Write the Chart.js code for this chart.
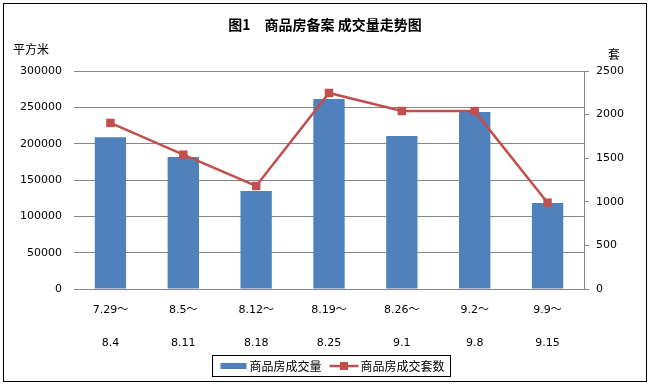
<!DOCTYPE html>
<html>
<head>
<meta charset="utf-8">
<script src="https://cdn.jsdelivr.net/npm/chart.js@4"></script>
<style>
    body { margin: 0; background: #fff; }
    #wrap { width: 650px; height: 385px; }
</style>
</head>
<body>
<div id="wrap"><canvas id="dealChart" width="650" height="385"></canvas></div>
<script>
// week ranges, split into two rows like the original
const weekStart = ['7.29～', '8.5～', '8.12～', '8.19～', '8.26～', '9.2～', '9.9～'];
const weekEnd = ['8.4', '8.11', '8.18', '8.25', '9.1', '9.8', '9.15'];

// 商品房成交量 (平方米)
const areaSold = [209000, 181600, 134900, 261400, 210500, 243600, 118300];
// 商品房成交套数 (套)
const unitsSold = [1904, 1540, 1181, 2248, 2041, 2040, 990];

const leftTicks = [0, 50000, 100000, 150000, 200000, 250000, 300000];
const rightTicks = [0, 500, 1000, 1500, 2000, 2500];

const BAR_BLUE = '#4F81BD';
const LINE_RED = '#C0504D';
const GRID = '#868686';
const FONT = "'DejaVu Sans', 'Noto Sans CJK SC', sans-serif";
const CJK = "'Noto Sans CJK SC', sans-serif";

Chart.defaults.color = '#000';
Chart.defaults.font.family = FONT;

// frame, unit captions and the boxed legend
const decorPlugin = {
    id: 'decor',
    afterDraw(chart) {
        const ctx = chart.ctx;
        const area = chart.chartArea;
        ctx.save();

        // outer frame
        ctx.strokeStyle = '#000';
        ctx.lineWidth = 1;
        ctx.strokeRect(3.5, 3.5, chart.width - 7, chart.height - 7);

        // unit captions
        ctx.font = '12px ' + CJK;
        ctx.fillStyle = '#000';
        ctx.textBaseline = 'middle';
        ctx.textAlign = 'left';
        ctx.fillText('平方米', 13, 49);
        ctx.fillText('套', area.right + 24, 54);

        // legend: bar series first, then the line
        const bars = chart.data.datasets.find(d => d.type === 'bar');
        const line = chart.data.datasets.find(d => d.type === 'line');
        const w1 = ctx.measureText(bars.label).width;
        const w2 = ctx.measureText(line.label).width;
        const boxW = 8 + 26 + 3 + w1 + 8 + 29 + 2 + w2 + 6;
        const boxH = 21;
        const bx = Math.round((area.left + area.right) / 2 + 2 - boxW / 2) + 0.5;
        const by = 355.5;
        const cy = by + boxH / 2;
        ctx.strokeStyle = '#000';
        ctx.strokeRect(bx, by, boxW, boxH);

        let x = bx + 8;
        ctx.fillStyle = bars.backgroundColor;
        ctx.fillRect(x, cy - 3, 26, 6);
        x += 29;
        ctx.fillStyle = '#000';
        ctx.fillText(bars.label, x, cy);
        x += w1 + 8;
        ctx.strokeStyle = line.borderColor;
        ctx.lineWidth = 2.5;
        ctx.beginPath();
        ctx.moveTo(x, cy);
        ctx.lineTo(x + 29, cy);
        ctx.stroke();
        ctx.fillStyle = line.backgroundColor;
        ctx.fillRect(x + 14.5 - 4, cy - 4, 8, 8);
        x += 31;
        ctx.fillStyle = '#000';
        ctx.fillText(line.label, x, cy);

        ctx.restore();
    }
};

const ctx = document.getElementById('dealChart').getContext('2d');
new Chart(ctx, {
    type: 'bar',
    data: {
        labels: weekStart.map((s, i) => [s, '', weekEnd[i]]),
        datasets: [
            {
                type: 'line',
                label: '商品房成交套数',
                data: unitsSold,
                borderColor: LINE_RED,
                backgroundColor: LINE_RED,
                borderWidth: 2.5,
                tension: 0,
                pointStyle: 'rect',
                pointRadius: 6,
                pointBorderWidth: 0,
                yAxisID: 'y1',
                order: 0
            },
            {
                type: 'bar',
                label: '商品房成交量',
                data: areaSold,
                backgroundColor: BAR_BLUE,
                barPercentage: 0.43,
                categoryPercentage: 1,
                yAxisID: 'y',
                order: 1
            }
        ]
    },
    options: {
        responsive: false,
        animation: false,
        layout: { padding: 0 },
        plugins: {
            legend: { display: false },
            tooltip: { enabled: false },
            title: {
                display: true,
                text: '图1　商品房备案 成交量走势图',
                font: { size: 14, weight: 'bold', family: CJK, lineHeight: 1.2 },
                padding: { top: 16, bottom: 38.2 },
                color: '#000'
            }
        },
        scales: {
            x: {
                grid: { display: false, drawTicks: false },
                border: { display: true, color: GRID },
                ticks: {
                    maxRotation: 0,
                    autoSkip: false,
                    padding: 13,
                    font: { size: 11, lineHeight: 1.5 }
                },
                afterFit(scale) { scale.height = 96; }
            },
            y: {
                position: 'left',
                min: 0,
                max: 300000,
                afterBuildTicks(scale) { scale.ticks = leftTicks.map(v => ({ value: v })); },
                grid: { color: GRID, drawTicks: false },
                border: { display: false },
                ticks: { padding: 12, font: { size: 11 }, callback: v => String(v) },
                afterFit(scale) { scale.width = 74; }
            },
            y1: {
                position: 'right',
                min: 0,
                max: 2500,
                afterBuildTicks(scale) { scale.ticks = rightTicks.map(v => ({ value: v })); },
                grid: { drawOnChartArea: false, drawTicks: true, tickLength: 5, color: GRID },
                border: { display: true, color: GRID },
                ticks: { padding: 7, font: { size: 11 }, callback: v => String(v) },
                afterFit(scale) { scale.width = 66; }
            }
        }
    },
    plugins: [decorPlugin]
});
</script>
</body>
</html>
